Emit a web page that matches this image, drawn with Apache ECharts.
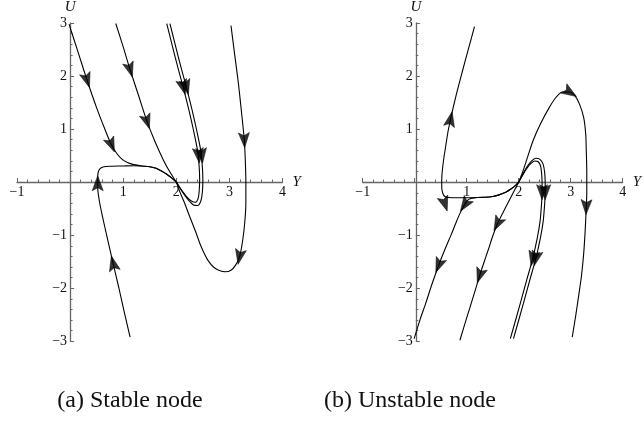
<!DOCTYPE html>
<html>
<head>
<meta charset="utf-8">
<script src="https://cdn.jsdelivr.net/npm/echarts@6/dist/echarts.min.js"></script>
<style>
  html, body { margin: 0; padding: 0; background: #ffffff; }
  #chart { width: 644px; height: 421px; }
</style>
</head>
<body>
<div id="chart"></div>
<script>
// Tick labels shown on each axis (zero is left blank where the axes cross)
const yTickLabels = [-1, 1, 2, 3, 4];
const uTickLabels = [-3, -2, -1, 1, 2, 3];
const captions = ['(a) Stable node', '(b) Unstable node'];

// ---- (a) stable node at (2, 0): trajectories, listed in the direction of flow ----
const stableFromTopLeft = [[-0.02,2.98],[0.15,2.45],[0.32,1.92],[0.5,1.40],[0.65,1.01],[0.78,0.70],[0.88,0.54],[0.97,0.44],[1.08,0.37],[1.2,0.33],[1.35,0.305],[1.5,0.29],[1.62,0.26],[1.72,0.21],[1.82,0.15],[1.9,0.09],[1.96,0.04],[2.0,0]];
const stableFromBottom = [[1.13,-2.92],[1.02,-2.45],[0.92,-2.0],[0.81,-1.53],[0.70,-1.05],[0.61,-0.65],[0.55,-0.35],[0.52,-0.1],[0.52,0.1],[0.53,0.19],[0.56,0.25],[0.62,0.285],[0.75,0.30],[1.0,0.305],[1.2,0.31],[1.35,0.305],[1.5,0.29],[1.62,0.26],[1.72,0.21],[1.82,0.15],[1.9,0.09],[1.96,0.04],[2.0,0]];
const stableMiddle = [[0.86,2.99],[1.0,2.55],[1.13,2.12],[1.3,1.6],[1.45,1.14],[1.6,0.76],[1.76,0.41],[1.88,0.19],[2.0,0]];
const stableLoopInner = [[1.82,2.99],[1.93,2.55],[2.04,2.12],[2.13,1.79],[2.24,1.35],[2.33,0.95],[2.40,0.6],[2.43,0.3],[2.44,0.05],[2.43,-0.18],[2.41,-0.31],[2.36,-0.38],[2.29,-0.36],[2.21,-0.29],[2.13,-0.19],[2.06,-0.09],[2.0,0]];
const stableLoopOuter = [[1.88,2.99],[1.99,2.55],[2.10,2.12],[2.19,1.79],[2.30,1.35],[2.39,0.95],[2.46,0.6],[2.49,0.3],[2.50,0.05],[2.49,-0.2],[2.46,-0.36],[2.40,-0.44],[2.32,-0.43],[2.23,-0.34],[2.14,-0.22],[2.06,-0.1],[2.0,0]];
const stableRight = [[3.03,2.95],[3.1,2.4],[3.17,1.86],[3.23,1.3],[3.28,0.8],[3.30,0.4],[3.31,0],[3.31,-0.4],[3.29,-0.75],[3.25,-1.1],[3.19,-1.41],[3.12,-1.56],[3.03,-1.66],[2.92,-1.69],[2.80,-1.66],[2.70,-1.60],[2.60,-1.48],[2.52,-1.33],[2.45,-1.17],[2.37,-0.95],[2.30,-0.77],[2.23,-0.59],[2.15,-0.38],[2.07,-0.19],[2.0,0]];

// arrowhead positions along each stable trajectory
const stableFromTopLeftArrows = [[0.32,1.92],[0.78,0.70]];
const stableFromBottomArrows = [[0.81,-1.53],[0.52,-0.02]];
const stableMiddleArrows = [[1.13,2.12],[1.45,1.14]];
const stableLoopInnerArrows = [[2.13,1.79],[2.42,0.5]];
const stableLoopOuterArrows = [[2.19,1.79],[2.48,0.5]];
const stableRightArrows = [[3.28,0.79],[3.19,-1.41]];

// ---- (b) unstable node at (2, 0) ----
const unstableToBottomLeft = [[2.0,0],[1.94,-0.06],[1.85,-0.13],[1.75,-0.19],[1.62,-0.24],[1.5,-0.27],[1.35,-0.285],[1.2,-0.29],[1.08,-0.31],[1.01,-0.35],[0.95,-0.44],[0.88,-0.57],[0.80,-0.75],[0.71,-0.97],[0.58,-1.27],[0.46,-1.57],[0.33,-1.93],[0.21,-2.29],[0.1,-2.6],[-0.01,-2.95]];
const unstableToTop = [[2.0,0],[1.94,-0.06],[1.85,-0.13],[1.75,-0.19],[1.62,-0.24],[1.5,-0.27],[1.35,-0.285],[1.2,-0.29],[1.0,-0.295],[0.8,-0.295],[0.66,-0.29],[0.58,-0.27],[0.54,-0.21],[0.52,-0.1],[0.52,0.05],[0.53,0.2],[0.56,0.45],[0.6,0.7],[0.64,0.95],[0.69,1.19],[0.8,1.65],[0.92,2.1],[1.03,2.5],[1.15,2.93]];
const unstableMiddle = [[2.0,0],[1.9,-0.19],[1.8,-0.38],[1.7,-0.57],[1.59,-0.79],[1.5,-1.02],[1.42,-1.26],[1.33,-1.52],[1.25,-1.76],[1.13,-2.15],[1.0,-2.56],[0.87,-2.98]];
const unstableLoopInner = [[2.0,0],[2.07,0.12],[2.15,0.25],[2.23,0.35],[2.31,0.40],[2.37,0.39],[2.42,0.31],[2.44,0.18],[2.45,0],[2.45,-0.2],[2.44,-0.41],[2.41,-0.75],[2.36,-1.04],[2.27,-1.44],[2.15,-1.86],[2.03,-2.29],[1.84,-2.95]];
const unstableLoopOuter = [[2.0,0],[2.08,0.15],[2.16,0.29],[2.25,0.40],[2.33,0.45],[2.41,0.43],[2.47,0.34],[2.50,0.18],[2.51,0],[2.51,-0.2],[2.50,-0.41],[2.47,-0.75],[2.42,-1.04],[2.33,-1.44],[2.21,-1.86],[2.09,-2.29],[1.90,-2.95]];
const unstableRight = [[2.0,0],[2.08,0.2],[2.18,0.5],[2.28,0.79],[2.42,1.1],[2.59,1.41],[2.72,1.6],[2.84,1.70],[2.97,1.70],[3.08,1.63],[3.17,1.47],[3.25,1.22],[3.29,0.9],[3.30,0.6],[3.31,0.2],[3.31,-0.2],[3.30,-0.47],[3.28,-0.9],[3.25,-1.35],[3.21,-1.75],[3.16,-2.10],[3.1,-2.5],[3.03,-2.92]];

// arrowheads; an optional third value fixes the heading in degrees
const unstableToBottomLeftArrows = [[0.96,-0.43],[0.46,-1.57]];
const unstableToTopArrows = [[0.69,1.19],[0.58,-0.41,-72]];
const unstableMiddleArrows = [[1.59,-0.79],[1.25,-1.76]];
const unstableLoopInnerArrows = [[2.45,-0.19],[2.27,-1.44]];
const unstableLoopOuterArrows = [[2.51,-0.19],[2.33,-1.44]];
const unstableRightArrows = [[2.99,1.69],[3.30,-0.47]];

const panels = [
  [[stableFromTopLeft, stableFromTopLeftArrows], [stableFromBottom, stableFromBottomArrows],
   [stableMiddle, stableMiddleArrows], [stableLoopInner, stableLoopInnerArrows],
   [stableLoopOuter, stableLoopOuterArrows], [stableRight, stableRightArrows]],
  [[unstableToBottomLeft, unstableToBottomLeftArrows], [unstableToTop, unstableToTopArrows],
   [unstableMiddle, unstableMiddleArrows], [unstableLoopInner, unstableLoopInnerArrows],
   [unstableLoopOuter, unstableLoopOuterArrows], [unstableRight, unstableRightArrows]]
];

const X_RANGE = [-1, 4];
const U_RANGE = [-3, 3];

const SERIF = '"Liberation Serif", "DejaVu Serif", serif';
const AXIS = '#666666';
const INK = '#000000';
// arrowhead with a slightly notched back, tip pointing up
const ARROW = 'path://M0,0 L6,15 L0,12 L-6,15 Z';

function fmt(v) { return v < 0 ? '\u2212' + (-v) : String(v); }

// heading of the trajectory at the segment closest to p (degrees, counter-clockwise from +x)
function heading(curve, p) {
  let best = Infinity, ang = 0;
  for (let i = 0; i < curve.length - 1; i++) {
    const a = curve[i], b = curve[i + 1];
    const dx = b[0] - a[0], dy = b[1] - a[1];
    const L2 = dx * dx + dy * dy || 1e-9;
    let t = ((p[0] - a[0]) * dx + (p[1] - a[1]) * dy) / L2;
    t = Math.max(0, Math.min(1, t));
    const qx = a[0] + t * dx - p[0], qy = a[1] + t * dy - p[1];
    const d = qx * qx + qy * qy;
    if (d < best) { best = d; ang = Math.atan2(dy, dx) * 180 / Math.PI; }
  }
  return ang;
}

const grids = [
  { left: 17, top: 22.7, width: 265.5, height: 318.6 },
  { left: 362.7, top: 22.7, width: 265.6, height: 318.6 }
];

// The axes cross at the origin: shift each axis from the grid edge to the zero of the other axis
function xAxisFor(gi) {
  const g = grids[gi];
  const shift = g.height * (0 - U_RANGE[0]) / (U_RANGE[1] - U_RANGE[0]);
  return {
    type: 'value', gridIndex: gi, min: X_RANGE[0], max: X_RANGE[1], interval: 1,
    position: 'bottom', offset: -shift,
    name: 'Y', nameLocation: 'end', nameGap: 10,
    nameTextStyle: { fontFamily: SERIF, fontStyle: 'italic', fontSize: 15, color: '#111' },
    axisLine: { onZero: false, lineStyle: { color: AXIS, width: 1.3 } },
    axisTick: { show: true, inside: true, length: 4, lineStyle: { color: AXIS, width: 1 } },
    minorTick: { show: true, splitNumber: 5, length: 2.5, lineStyle: { color: AXIS, width: 1 } },
    splitLine: { show: false }, minorSplitLine: { show: false },
    axisLabel: {
      margin: 3, fontFamily: SERIF, fontSize: 14, color: '#111',
      formatter: v => (yTickLabels.includes(v) ? fmt(v) : '')
    }
  };
}

function yAxisFor(gi) {
  const g = grids[gi];
  const shift = g.width * (0 - X_RANGE[0]) / (X_RANGE[1] - X_RANGE[0]);
  return {
    type: 'value', gridIndex: gi, min: U_RANGE[0], max: U_RANGE[1], interval: 1,
    position: 'left', offset: -shift,
    name: 'U', nameLocation: 'end', nameGap: 8,
    nameTextStyle: { fontFamily: SERIF, fontStyle: 'italic', fontSize: 15, color: '#111' },
    axisLine: { onZero: false, lineStyle: { color: AXIS, width: 1.3 } },
    axisTick: { show: true, inside: true, length: 4, lineStyle: { color: AXIS, width: 1 } },
    minorTick: { show: true, splitNumber: 5, length: 2.5, lineStyle: { color: AXIS, width: 1 } },
    splitLine: { show: false }, minorSplitLine: { show: false },
    axisLabel: {
      margin: 3, fontFamily: SERIF, fontSize: 14, color: '#111',
      formatter: v => (uTickLabels.includes(v) ? fmt(v) : '')
    }
  };
}

const series = [];
panels.forEach((curves, gi) => {
  curves.forEach(([curve, arrows]) => {
    series.push({
      type: 'line', xAxisIndex: gi, yAxisIndex: gi, data: curve,
      symbol: 'none', smooth: 0.25, silent: true, z: 3,
      lineStyle: { color: INK, width: 1.1 }
    });
    series.push({
      type: 'scatter', xAxisIndex: gi, yAxisIndex: gi, silent: true, z: 4,
      symbol: ARROW, symbolSize: [11, 15],
      itemStyle: { color: INK, borderColor: INK, borderWidth: 0.6 },
      data: arrows.map(a => {
        const ang = a.length > 2 ? a[2] : heading(curve, a);
        return { value: [a[0], a[1]], symbolRotate: ang - 90 };
      })
    });
  });
});

const chart = echarts.init(document.getElementById('chart'), null, { renderer: 'canvas' });
chart.setOption({
  animation: false,
  backgroundColor: '#ffffff',
  grid: grids,
  xAxis: [xAxisFor(0), xAxisFor(1)],
  yAxis: [yAxisFor(0), yAxisFor(1)],
  series: series,
  graphic: [
    { type: 'text', x: 130, y: 401,
      style: { text: captions[0], x: 0, y: 0, align: 'center', verticalAlign: 'middle', font: '24px ' + SERIF, fill: '#111' } },
    { type: 'text', x: 410, y: 401,
      style: { text: captions[1], x: 0, y: 0, align: 'center', verticalAlign: 'middle', font: '24px ' + SERIF, fill: '#111' } }
  ]
});
</script>
</body>
</html>
